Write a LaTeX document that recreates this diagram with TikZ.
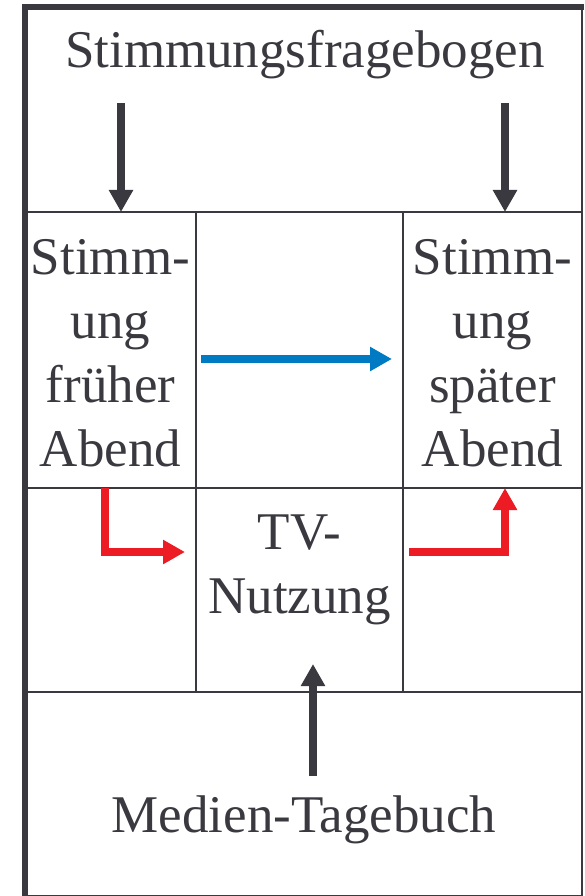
\documentclass[tikz,border=0pt]{standalone}
\usepackage{fontspec}
\setmainfont{Liberation Serif}
\usetikzlibrary{arrows.meta,calc,positioning}
\definecolor{ink}{RGB}{58,57,63}
\definecolor{blau}{RGB}{0,122,195}
\definecolor{rot}{RGB}{237,28,36}
\tikzset{
    cell/.style = {draw=ink, line width=2.5pt, rectangle, inner sep=0pt, outer sep=0pt, anchor=north west},
    schrift/.style = {text=ink, font=\fontsize{53}{64}\selectfont, align=center, inner sep=0pt},
    pfeil/.style = {draw=#1, line width=8pt, -{Triangle[length=22pt,width=23pt]}},
    pfeil/.default = ink,
    rahmen/.style = {draw=ink, line width=6pt},
}
\begin{document}
\begin{tikzpicture}[x=1pt, y=-1pt]
    \useasboundingbox (0,0) rectangle (585,896);
    % Zellen
    \node [cell, minimum width=557pt, minimum height=205pt] (oben) at (25,7) {};
    \node [cell, minimum width=171pt, minimum height=276pt] (frueh) at (oben.south west) {};
    \node [cell, minimum width=207pt, minimum height=276pt] (mitte) at (frueh.north east) {};
    \node [cell, minimum width=179pt, minimum height=276pt] (spaet) at (mitte.north east) {};
    \node [cell, minimum width=171pt, minimum height=204pt] (links) at (frueh.south west) {};
    \node [cell, minimum width=207pt, minimum height=204pt] (tv) at (links.north east) {};
    \node [cell, minimum width=179pt, minimum height=204pt] (rechts) at (tv.north east) {};
    \node [cell, minimum width=557pt, minimum height=204pt] (unten) at (links.south west) {};
    \draw [rahmen] (unten.south west) -- (oben.north west) -- ([xshift=1.5pt]oben.north east);
    % Texte
    \node [schrift, anchor=base] (titel) at (305,68) {Stimmungsfragebogen};
    \node [schrift] (tfrueh) at ([yshift=-3.5pt]frueh.center) {Stimm-\\ung\\früher\\Abend};
    \node [schrift] (tspaet) at ([yshift=-3.5pt]spaet.center) {Stimm-\\ung\\später\\Abend};
    \node [schrift] (ttv) at ([yshift=20pt]tv.center) {TV-\\Nutzung};
    \node [schrift, anchor=base] (medien) at (304,832) {Medien-Tagebuch};
    % Pfeile
    \coordinate (q1) at (121,103);
    \coordinate (q2) at (505,103);
    \draw [pfeil] (q1) -- (q1 |- frueh.north);
    \draw [pfeil] (q2) -- (q2 |- spaet.north);
    \coordinate (b1) at (201,359);
    \coordinate (b2) at (392,359);
    \draw [pfeil=blau] (b1) -- (b2);
    \coordinate (r1) at (105,552);
    \coordinate (r2) at (185,552);
    \draw [pfeil=rot] (r1 |- frueh.south) |- (r2);
    \coordinate (r3) at (409,552);
    \coordinate (r4) at (505,552);
    \draw [pfeil=rot] (r3) -| (r4 |- spaet.south);
    \coordinate (m1) at (313,776);
    \coordinate (m2) at (313,664);
    \draw [pfeil] (m1) -- (m2);
\end{tikzpicture}
\end{document}
